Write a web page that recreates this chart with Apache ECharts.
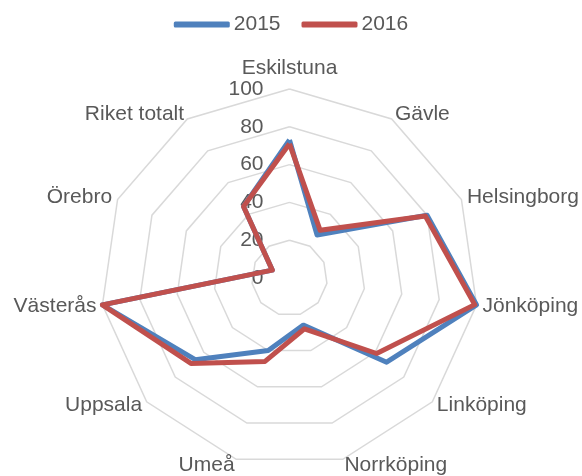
<!DOCTYPE html>
<html>
<head>
<meta charset="utf-8">
<script src="https://cdn.jsdelivr.net/npm/echarts@6/dist/echarts.min.js"></script>
<style>
html,body{margin:0;padding:0;background:#fff;}
#chart{width:582px;height:476px;}
</style>
</head>
<body>
<div id="chart"></div>
<script>
const categories = ['Eskilstuna','Gävle','Helsingborg','Jönköping','Linköping','Norrköping','Umeå','Uppsala','Västerås','Örebro','Riket totalt'];
const seriesNames = ['2015','2016'];
const values2015 = [73, 27, 80, 100, 68, 26, 40, 66, 100, 10, 45];
const values2016 = [71, 30, 79, 99, 61, 28, 46, 69, 100, 10, 45];
const axisMax = 100;

const font = 'Liberation Sans, Arial, sans-serif';
const textColor = '#595959';

// ECharts radar runs counter-clockwise; reorder so categories go clockwise from the top
const order = categories.map((_, i) => (i === 0 ? 0 : categories.length - i));
const reorder = arr => order.map(i => arr[i]);

const indicator = order.map((ci, k) => {
  const ind = { name: categories[ci], max: axisMax, min: 0 };
  if (k === 0) {
    ind.axisLabel = { show: true, color: textColor, fontSize: 21, fontFamily: font, margin: 26 };
  }
  return ind;
});

const chart = echarts.init(document.getElementById('chart'), null, { renderer: 'canvas' });
chart.setOption({
  backgroundColor: '#ffffff',
  animation: false,
  legend: {
    data: seriesNames,
    top: 9,
    left: 'center',
    itemWidth: 56,
    itemHeight: 6,
    itemGap: 21,
    icon: 'roundRect',
    textStyle: { color: textColor, fontSize: 21, fontFamily: font, padding: [0, 0, 0, -1] }
  },
  radar: {
    center: [289.5, 278],
    radius: 189,
    startAngle: 90,
    splitNumber: 5,
    shape: 'polygon',
    nameGap: 6,
    axisName: { color: textColor, fontSize: 21, fontFamily: font },
    axisLine: { show: false },
    axisTick: { show: false },
    axisLabel: { show: false },
    splitLine: { lineStyle: { color: '#D9D9D9', width: 1.5 } },
    splitArea: { show: false },
    indicator: indicator
  },
  series: [{
    type: 'radar',
    symbol: 'none',
    data: [
      { name: seriesNames[0], value: reorder(values2015), itemStyle: { color: '#4F81BD' }, lineStyle: { color: '#4F81BD', width: 5, join: 'round' } },
      { name: seriesNames[1], value: reorder(values2016), itemStyle: { color: '#C0504D' }, lineStyle: { color: '#C0504D', width: 5, join: 'round' } }
    ]
  }]
});
</script>
</body>
</html>
